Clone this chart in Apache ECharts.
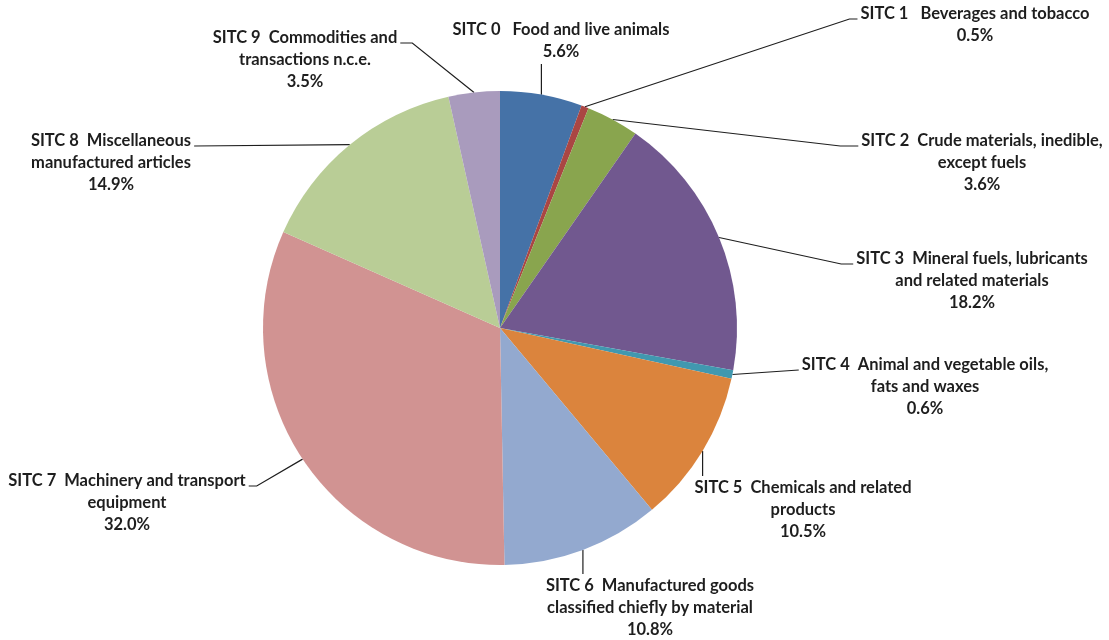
<!DOCTYPE html>
<html>
<head>
    <meta charset="UTF-8">
    <title>SITC pie</title>
    <script src="https://cdn.jsdelivr.net/npm/echarts@6/dist/echarts.min.js"></script>
    <style>
        html, body { margin: 0; padding: 0; background: #fff; }
        #chart { width: 1109px; height: 640px; }
    </style>
</head>
<body>
<div id="chart"></div>
<script type="text/javascript">
    // 数据
    var names = [
        'SITC 0   Food and live animals',
        'SITC 1   Beverages and tobacco',
        'SITC 2  Crude materials, inedible,\nexcept fuels',
        'SITC 3  Mineral fuels, lubricants\nand related materials',
        'SITC 4  Animal and vegetable oils,\nfats and waxes',
        'SITC 5  Chemicals and related\nproducts',
        'SITC 6  Manufactured goods\nclassified chiefly by material',
        'SITC 7  Machinery and transport\nequipment',
        'SITC 8  Miscellaneous\nmanufactured articles',
        'SITC 9  Commodities and\ntransactions n.c.e.'
    ];
    var shares = [5.6, 0.5, 3.6, 18.2, 0.6, 10.5, 10.8, 32.0, 14.9, 3.5];
    var colors = ['#4572A7', '#AA4643', '#89A54E', '#71588F', '#4198AF',
                  '#DB843D', '#93A9CF', '#D19392', '#B9CD96', '#A99BBD'];

    // 标签位置（块中心）和引导线连接方式 [边, 短横线长度]
    var labelPos = [
        [561, 41], [975, 25], [982, 163], [972, 281], [925, 387],
        [803, 510], [650, 608], [127, 503], [111, 163], [305, 60]
    ];
    var guide = [
        ['bottom', 0], ['left', 8], ['left', 18], ['left', 12], ['left', 0],
        ['top', 0], ['top', 0], ['right', 8], ['right', 0], ['right', 12]
    ];
    var LINE_H = 22;

    var myChart = echarts.init(document.getElementById('chart'));

    var option = {
        backgroundColor: '#ffffff',
        animation: false,
        series: [
            {
                type: 'pie',
                center: [500, 328],
                radius: 237,
                startAngle: 90,
                clockwise: true,
                avoidLabelOverlap: false,
                data: shares.map(function (v, i) {
                    return { name: names[i], value: v, itemStyle: { color: colors[i] } };
                }),
                label: {
                    show: true,
                    formatter: function (p) {
                        return p.name + '\n' + p.value.toFixed(1) + '%';
                    },
                    fontFamily: 'Lato',
                    fontWeight: 'bold',
                    fontSize: 16.5,
                    lineHeight: LINE_H,
                    color: '#1e1e1e',
                    align: 'center'
                },
                labelLine: {
                    show: true,
                    length: 10,
                    length2: 8,
                    lineStyle: { color: '#1e1e1e', width: 1.2 }
                },
                labelLayout: function (params) {
                    var i = params.dataIndex;
                    var p = labelPos[i];
                    var w = params.labelRect.width, h = params.labelRect.height;
                    var left = p[0] - w / 2, right = p[0] + w / 2;
                    var top = p[1] - h / 2, bottom = p[1] + h / 2;
                    var firstY = top + LINE_H / 2 + 5;
                    // 扇形外弧中点（由饼图自身布局给出）
                    var arc = params.labelLinePoints ? params.labelLinePoints[0] : null;
                    var pts;
                    if (arc) {
                        var side = guide[i][0], stub = guide[i][1];
                        if (side === 'bottom') {
                            pts = [arc, [arc[0], bottom + 1], [arc[0], bottom + 1]];
                        } else if (side === 'top') {
                            pts = [arc, [arc[0], top - 1], [arc[0], top - 1]];
                        } else if (side === 'left') {
                            pts = [arc, [left - 3 - stub, firstY], [left - 3, firstY]];
                        } else {
                            pts = [arc, [right + 3 + stub, firstY], [right + 3, firstY]];
                        }
                    }
                    var out = { x: p[0], y: p[1], align: 'center', verticalAlign: 'middle' };
                    if (pts) out.labelLinePoints = pts;
                    return out;
                }
            }
        ]
    };
    myChart.setOption(option);
</script>
</body>
</html>
